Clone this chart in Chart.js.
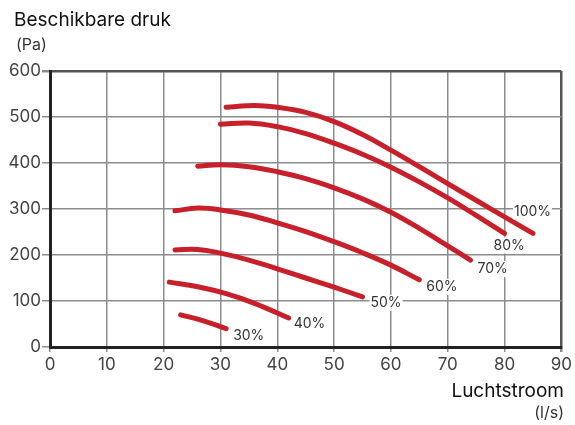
<!DOCTYPE html>
<html>
<head>
<meta charset="utf-8">
<script src="https://cdn.jsdelivr.net/npm/chart.js@4.4.1/dist/chart.umd.min.js"></script>
<style>
  html, body { margin: 0; padding: 0; background: #fff; }
  #wrap { width: 575px; height: 425px; position: relative; }
</style>
</head>
<body>
<div id="wrap"><canvas id="fanChart"></canvas></div>
<script>
// fan curves: airflow (l/s) against available pressure (Pa) per fan speed
var speeds = ['100%', '80%', '70%', '60%', '50%', '40%', '30%']

var flow100 = [31, 36, 40, 45, 50, 55, 60, 65, 70, 75, 80, 85]
var press100 = [521, 525, 521, 510, 490, 462, 428, 392, 355, 319, 283, 247]

var flow80 = [30, 35, 40, 45, 50, 55, 60, 65, 70, 75, 80]
var press80 = [484, 487, 479, 464, 443, 419, 391, 359, 324, 286, 247]

var flow70 = [26, 30, 35, 40, 45, 50, 55, 60, 65, 70, 74]
var press70 = [393, 396, 392, 381, 366, 346, 322, 293, 258, 220, 189]

var flow60 = [22, 26, 30, 35, 40, 45, 50, 55, 60, 65]
var press60 = [296, 302, 298, 287, 270, 251, 229, 205, 178, 146]

var flow50 = [22, 26, 30, 35, 40, 45, 50, 55]
var press50 = [211, 212, 204, 189, 170, 150, 130, 109]

var flow40 = [21, 26, 31, 36, 42]
var press40 = [141, 131, 116, 95, 63]

var flow30 = [23, 27, 31]
var press30 = [70, 57, 40]

var xTicks = [0, 10, 20, 30, 40, 50, 60, 70, 80, 90]
var yTicks = [0, 100, 200, 300, 400, 500, 600]

var curveColor = '#c8202b'
var fontName = 'Inter, "Noto Sans", sans-serif'

// where each speed label sits, relative to the end of its curve (px)
var labelOffsets = [[-19, -22], [-11, 12], [7, 9], [7, 7], [8, 6], [5, 6], [7, 7]]

function toPoints(xs, ys) {
    var pts = []
    for (var i = 0; i < xs.length; i++) {
        pts.push({ x: xs[i], y: ys[i] })
    }
    return pts
}

var curves = [
    toPoints(flow100, press100),
    toPoints(flow80, press80),
    toPoints(flow70, press70),
    toPoints(flow60, press60),
    toPoints(flow50, press50),
    toPoints(flow40, press40),
    toPoints(flow30, press30)
]

var datasets = []
for (var i = 0; i < curves.length; i++) {
    datasets.push({
        label: speeds[i],
        data: curves[i],
        showLine: true,
        borderColor: curveColor,
        borderWidth: 5,
        borderCapStyle: 'round',
        tension: 0.4,
        pointRadius: 0,
        pointHoverRadius: 0,
        fill: false
    })
}

// speed labels and axis captions
var textPlugin = {
    id: 'fanText',
    afterDatasetsDraw: function (chart) {
        var ctx = chart.ctx
        var xs = chart.scales.x
        var ys = chart.scales.y
        ctx.save()
        ctx.font = '14px ' + fontName
        ctx.textBaseline = 'middle'
        ctx.textAlign = 'left'
        for (var i = 0; i < curves.length; i++) {
            var last = curves[i][curves[i].length - 1]
            var px = xs.getPixelForValue(last.x) + labelOffsets[i][0]
            var py = ys.getPixelForValue(last.y) + labelOffsets[i][1]
            var w = ctx.measureText(speeds[i]).width
            ctx.fillStyle = '#fff'
            ctx.fillRect(px - 1, py - 8, w + 2, 16)
            ctx.fillStyle = '#333'
            ctx.fillText(speeds[i], px, py)
        }
        ctx.restore()
    },
    afterDraw: function (chart) {
        var ctx = chart.ctx
        ctx.save()
        ctx.fillStyle = '#111'
        ctx.textBaseline = 'middle'
        ctx.font = '19px ' + fontName
        ctx.textAlign = 'left'
        ctx.fillText('Beschikbare druk', 14, 20)
        ctx.font = '16px ' + fontName
        ctx.fillStyle = '#333'
        ctx.fillText('(Pa)', 16, 45)
        ctx.textAlign = 'right'
        ctx.font = '19px ' + fontName
        ctx.fillStyle = '#111'
        ctx.fillText('Luchtstroom', 564, 391)
        ctx.font = '16px ' + fontName
        ctx.fillStyle = '#333'
        ctx.fillText('(l/s)', 564, 413)
        ctx.restore()
    }
}

function gridColor(context) {
    var v = context.tick ? context.tick.value : null
    return (v === 600 || v === 90) ? '#555' : '#8c8c8c'
}

function gridWidth(context) {
    var v = context.tick ? context.tick.value : null
    return (v === 600 || v === 90) ? 2.5 : 1.5
}

var ctx = document.getElementById('fanChart')
var fanChart = new Chart(ctx, {
    type: 'scatter',
    data: { datasets: datasets },
    options: {
        responsive: true,
        maintainAspectRatio: false,
        animation: false,
        layout: { padding: { left: 0, top: 71, right: 11, bottom: 0 } },
        plugins: {
            legend: { display: false },
            tooltip: { enabled: false }
        },
        scales: {
            x: {
                type: 'linear',
                min: 0,
                max: 90,
                afterBuildTicks: function (scale) {
                    scale.ticks = xTicks.map(function (v) { return { value: v } })
                },
                afterFit: function (scale) { scale.height = 78 },
                grid: {
                    color: gridColor,
                    lineWidth: gridWidth,
                    drawTicks: true,
                    tickLength: 5,
                    tickColor: '#8c8c8c'
                },
                border: { color: '#222', width: 3 },
                ticks: {
                    color: '#444',
                    padding: 3,
                    font: { family: fontName, size: 17 },
                    maxRotation: 0
                }
            },
            y: {
                type: 'linear',
                min: 0,
                max: 600,
                afterBuildTicks: function (scale) {
                    scale.ticks = yTicks.map(function (v) { return { value: v } })
                },
                afterFit: function (scale) { scale.width = 50 },
                grid: {
                    color: gridColor,
                    lineWidth: gridWidth,
                    drawTicks: true,
                    tickLength: 8,
                    tickColor: '#8c8c8c'
                },
                border: { color: '#222', width: 3 },
                ticks: {
                    color: '#444',
                    padding: 1,
                    font: { family: fontName, size: 17 }
                }
            }
        }
    },
    plugins: [textPlugin]
})
</script>
</body>
</html>
